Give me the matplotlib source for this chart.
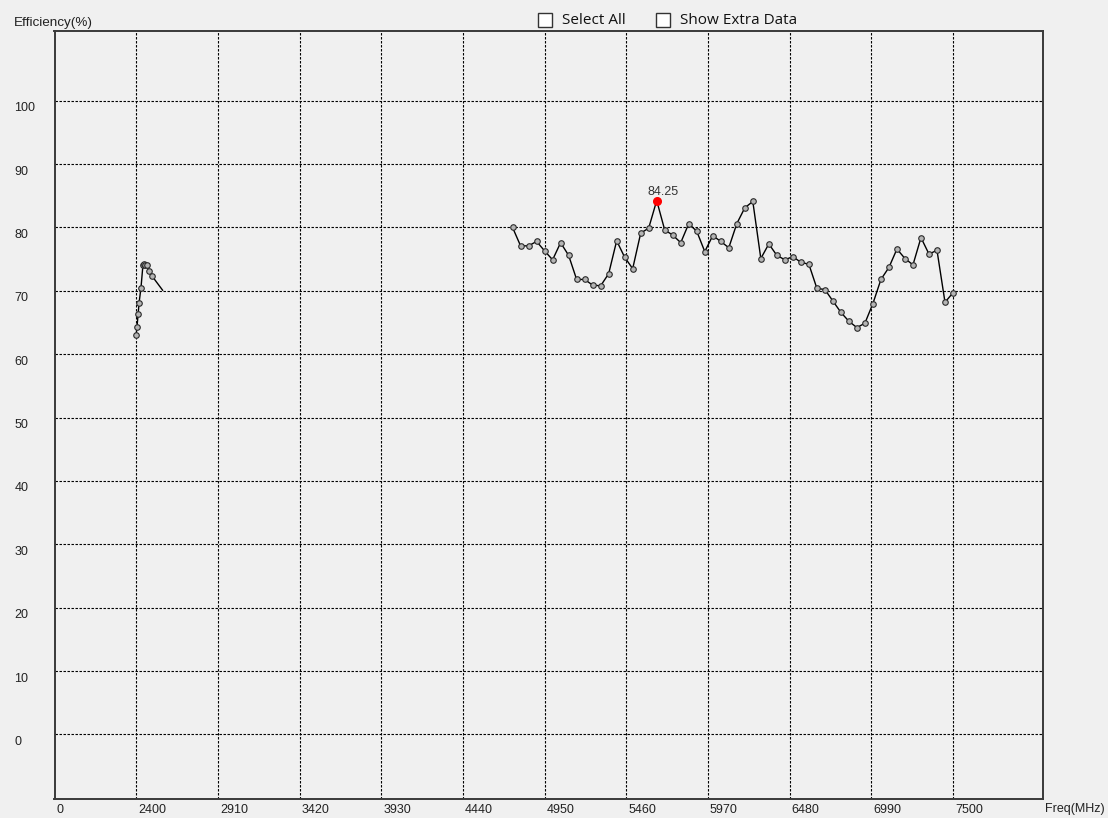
import matplotlib.pyplot as plt
import matplotlib.transforms as mtransforms
from matplotlib.patches import Rectangle
import numpy as np

# %%
# Data
# ===========================

band1_freq = [2400, 2405, 2412, 2418, 2430, 2442, 2450, 2457, 2465, 2482, 2497, 2565]
band1_eff = [63.1, 64.3, 66.3, 68.1, 70.5, 74.0, 74.2, 74.1, 74.0, 73.2, 72.4, 70.1]

band2_freq = np.arange(4750, 7501, 50)
band2_eff = [80.0, 77.1, 77.1, 77.8, 76.3, 74.9, 77.6, 75.6, 71.8, 71.8,
             70.9, 70.8, 72.7, 77.9, 75.3, 73.5, 79.1, 79.9, 84.25, 79.6,
             78.8, 77.6, 80.6, 79.4, 76.2, 78.7, 77.8, 76.8, 80.6, 83.1,
             84.1, 75.1, 77.4, 75.6, 74.9, 75.4, 74.5, 74.2, 70.4, 70.2,
             68.4, 66.6, 65.2, 64.2, 64.9, 68.0, 71.8, 73.7, 76.6, 75.1,
             74.1, 78.4, 75.8, 76.4, 68.2, 69.7]

xticks = [1890, 2400, 2910, 3420, 3930, 4440, 4950, 5460, 5970, 6480, 6990, 7500]
xticklabels = ["0"] + [str(t) for t in xticks[1:]]
yticks = list(range(0, 101, 10))

# %%
# Figure
# ======

W, H = 1108, 818
bg = "#f0f0f0"
plt.rcParams["font.family"] = ["Liberation Sans", "DejaVu Sans"]

fig = plt.figure(figsize=(W / 100, H / 100), dpi=100, facecolor=bg)
ax = fig.add_axes([54.5 / W, 1 - 798.5 / H, (1042.7 - 54.5) / W, (798.5 - 31) / H])
ax.set_facecolor(bg)

marker_kw = dict(marker="o", markersize=4.0, markerfacecolor="#b4b4b4",
                 markeredgecolor="#2a2a2a", markeredgewidth=0.8)

# 2.4 GHz band: last point has no marker
ax.plot(band1_freq, band1_eff, color="black", lw=1.0, zorder=3)
ax.plot(band1_freq[:-1], band1_eff[:-1], ls="none", zorder=4, **marker_kw)

# 5-7 GHz band
ax.plot(band2_freq, band2_eff, color="black", lw=1.0, zorder=3, **marker_kw)

# peak marker
all_f = np.concatenate([band1_freq, band2_freq])
all_e = np.concatenate([band1_eff, band2_eff])
k = np.argmax(all_e)
ax.plot(all_f[k], all_e[k], "o", color="red", markersize=5.5, zorder=5)
ax.annotate(f"{all_e[k]:.2f}", (all_f[k], all_e[k]), xytext=(6, 9),
            textcoords="offset pixels", ha="center", va="center",
            fontsize=9, color="#333333")

ax.set_xlim(1890, 8060)
ax.set_ylim(-10.1, 111)

ax.set_xticks(xticks)
ax.set_xticklabels(xticklabels, fontsize=9, color="#222222")
ax.set_yticks(yticks)
ax.set_yticklabels([str(t) for t in yticks], fontsize=9, color="#222222")
ax.tick_params(axis="both", length=0)
ax.tick_params(axis="y", pad=29)
ax.tick_params(axis="x", pad=4)

# shift tick labels like the original app does
dx = mtransforms.ScaledTranslation(2 / 100, 0, fig.dpi_scale_trans)
for lbl in ax.get_xticklabels():
    lbl.set_ha("left")
    lbl.set_transform(lbl.get_transform() + dx)
dy = mtransforms.ScaledTranslation(0, -6 / 100, fig.dpi_scale_trans)
for lbl in ax.get_yticklabels():
    lbl.set_ha("left")
    lbl.set_transform(lbl.get_transform() + dy)

ax.grid(True, color="black", lw=0.8, ls=(0, (2.2, 1.4)))
for s in ax.spines.values():
    s.set_color("#3a3a3a")
    s.set_linewidth(1.4)

# axis captions
fig.text(14 / W, 1 - 23 / H, "Efficiency(%)", fontsize=9.7, color="#222222",
         ha="left", va="center")
fig.text(1045 / W, 1 - 809 / H, "Freq(MHz)", fontsize=9, color="#222222",
         ha="left", va="center")

# checkboxes
for x0, label in [(538, "Select All"), (656, "Show Extra Data")]:
    fig.patches.append(Rectangle((x0 / W, 1 - 27 / H), 14 / W, 14 / H,
                                 transform=fig.transFigure, facecolor="white",
                                 edgecolor="#333333", lw=1.0))
    fig.text((x0 + 24) / W, 1 - 20 / H, label, fontsize=11,
             family=["Open Sans", "DejaVu Sans"], color="#111111",
             ha="left", va="center")

plt.savefig("out.png", dpi=100, facecolor=bg)
